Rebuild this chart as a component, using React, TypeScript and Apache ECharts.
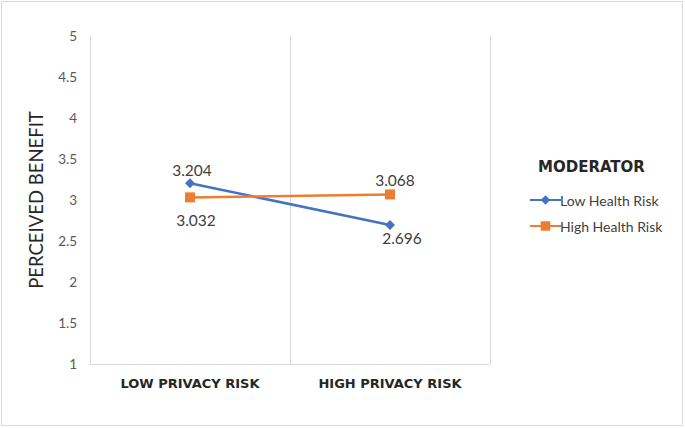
import React, { useEffect, useRef } from "react";
import * as echarts from "echarts";

const categories = ["LOW PRIVACY RISK", "HIGH PRIVACY RISK"];
const lowHealthRisk = [3.204, 2.696];
const highHealthRisk = [3.032, 3.068];
const seriesNames = ["Low Health Risk", "High Health Risk"];
const yAxisTitle = "PERCEIVED BENEFIT";
const legendTitle = "MODERATOR";

export default function App() {
  const ref = useRef<HTMLDivElement>(null);
  useEffect(() => {
    const chart = echarts.init(ref.current!, null, { renderer: "svg" });
    const font = "Lato, 'Open Sans', sans-serif";
    const labelStyle = { color: "#404040", fontSize: 15.5, fontFamily: font };
    chart.setOption({
      animation: false,
      backgroundColor: "#ffffff",
      grid: { left: 90, top: 36, width: 400, height: 328 },
      xAxis: {
        type: "category",
        data: categories,
        boundaryGap: true,
        axisLine: { show: true, lineStyle: { color: "#d9d9d9", width: 1 } },
        axisTick: { show: false },
        splitLine: { show: true, lineStyle: { color: "#d9d9d9", width: 1 } },
        axisLabel: {
          color: "#262626",
          fontSize: 13,
          fontWeight: "bold",
          fontFamily: "'DejaVu Sans', sans-serif",
          margin: 13,
        },
      },
      yAxis: {
        type: "value",
        min: 1,
        max: 5,
        interval: 0.5,
        name: yAxisTitle,
        nameLocation: "middle",
        nameRotate: 90,
        nameGap: 45,
        nameTextStyle: { color: "#262626", fontSize: 18.5, fontFamily: font },
        axisLine: { show: true, lineStyle: { color: "#d9d9d9", width: 1 } },
        axisTick: { show: false },
        splitLine: { show: false },
        axisLabel: { color: "#595959", fontSize: 13.5, fontFamily: font, margin: 13 },
      },
      legend: {
        orient: "vertical",
        left: 524,
        top: 188,
        itemGap: 12,
        itemWidth: 31,
        itemHeight: 12,
        textStyle: { color: "#404040", fontSize: 14, fontFamily: font, padding: [0, 0, 0, -6] },
        data: seriesNames,
      },
      graphic: [
        {
          type: "rect",
          shape: { x: 1.5, y: 1.5, width: 681, height: 424 },
          style: { fill: "none", stroke: "#d9d9d9", lineWidth: 1 },
        },
        {
          type: "text",
          left: 538,
          top: 159,
          style: {
            text: legendTitle,
            fill: "#262626",
            fontSize: 15,
            fontWeight: "bold",
            fontFamily: "'DejaVu Sans', sans-serif",
          },
        },
      ],
      series: [
        {
          name: seriesNames[0],
          type: "line",
          data: [
            { value: lowHealthRisk[0], label: { position: "top", distance: 5, offset: [2, 5] } },
            { value: lowHealthRisk[1], label: { position: "bottom", distance: 4, offset: [12, -4] } },
          ],
          color: "#4472C4",
          lineStyle: { width: 2.5, color: "#4472C4" },
          symbol: "diamond",
          symbolSize: 10,
          label: { show: true, ...labelStyle },
        },
        {
          name: seriesNames[1],
          type: "line",
          data: [
            { value: highHealthRisk[0], label: { position: "bottom", distance: 12, offset: [6, -2] } },
            { value: highHealthRisk[1], label: { position: "top", distance: 5, offset: [5, 4] } },
          ],
          color: "#ED7D31",
          lineStyle: { width: 2.5, color: "#ED7D31" },
          symbol: "rect",
          symbolSize: 10,
          label: { show: true, ...labelStyle },
        },
      ],
    });
    return () => chart.dispose();
  }, []);
  return <div ref={ref} style={{ width: 685, height: 428, position: "absolute", left: 0, top: 0 }} />;
}
